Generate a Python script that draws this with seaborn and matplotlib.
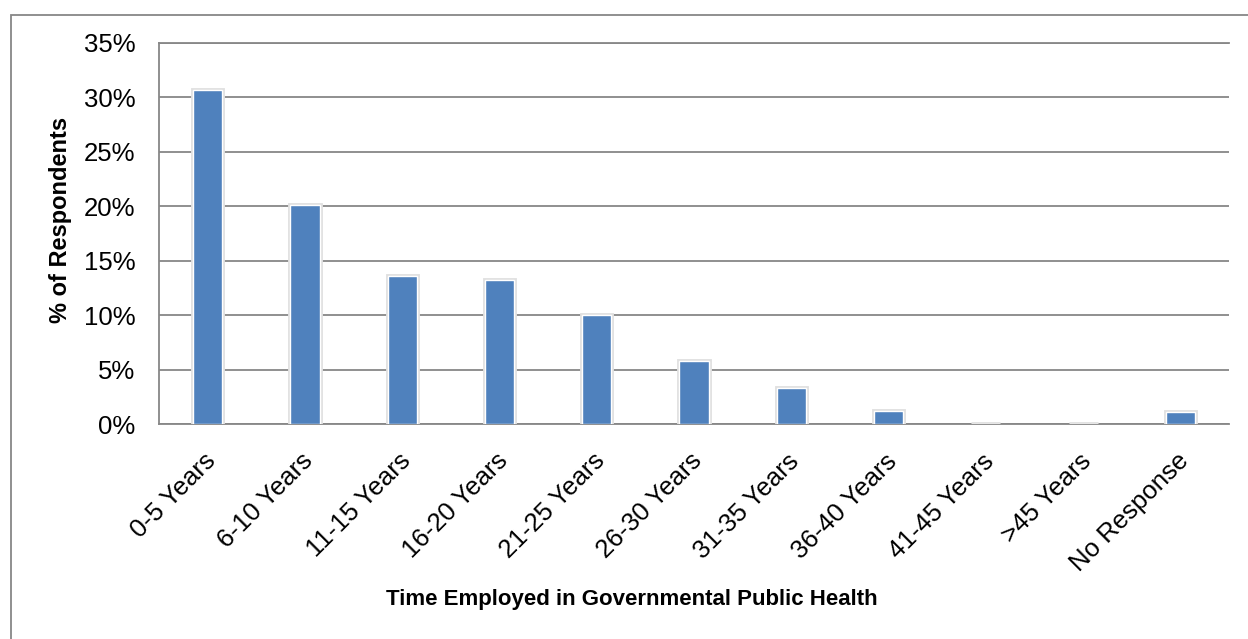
import matplotlib
matplotlib.use("Agg")
import matplotlib.pyplot as plt
import matplotlib.patheffects as pe
from matplotlib.patches import Rectangle
from matplotlib.transforms import ScaledTranslation
import seaborn as sns
import pandas as pd

# Survey results: share of respondents by years employed
categories = ["0-5 Years", "6-10 Years", "11-15 Years", "16-20 Years", "21-25 Years",
              "26-30 Years", "31-35 Years", "36-40 Years", "41-45 Years", ">45 Years",
              "No Response"]
percent = [30.7, 20.1, 13.6, 13.2, 10.0, 5.8, 3.3, 1.2, 0.0, 0.0, 1.1]
y_ticks = [0, 5, 10, 15, 20, 25, 30, 35]
x_title = "Time Employed in Governmental Public Health"
y_title = "% of Respondents"

df = pd.DataFrame({"category": categories, "percent": percent})

sns.set_theme(style="white")
plt.rcParams["font.family"] = ["Liberation Sans", "DejaVu Sans"]

W, H = 1248, 639
fig = plt.figure(figsize=(W / 100, H / 100), dpi=100)
ax = fig.add_axes([159 / W, 1 - 424 / H, (1229 - 159) / W, (424 - 43) / H])

grey = "#878787"
sns.barplot(data=df, x="category", y="percent", ax=ax, color="#4F81BD",
            width=0.3, saturation=1, edgecolor="white", linewidth=1.0, zorder=3)
for bar in ax.patches:
    bar.set_path_effects([pe.Stroke(linewidth=3.5, foreground="#e0e0e0"), pe.Normal()])

ax.set_ylim(0, 35)
ax.set_xlim(-0.5, len(categories) - 0.5)
ax.set_yticks(y_ticks)
ax.set_yticklabels([f"{t}%" for t in y_ticks])
ax.yaxis.grid(True, color=grey, linewidth=1.3, zorder=0)
ax.xaxis.grid(False)
ax.set_axisbelow(True)

for side in ["left", "bottom", "top"]:
    ax.spines[side].set_visible(True)
    ax.spines[side].set_color(grey)
    ax.spines[side].set_linewidth(1.3)
ax.spines["right"].set_visible(False)

ax.tick_params(axis="y", length=0, pad=17, labelsize=18.5, labelcolor="black")
ax.tick_params(axis="x", length=0, pad=18, labelsize=18.5, labelcolor="black")
shift = ScaledTranslation(-4 / 100, 0, fig.dpi_scale_trans)
for lab in ax.get_xticklabels():
    lab.set_rotation(45)
    lab.set_ha("right")
    lab.set_va("top")
    lab.set_rotation_mode("anchor")
    lab.set_transform(lab.get_transform() + shift)

ax.set_xlabel("")
ax.set_ylabel("")
fig.text(632 / W, 1 - 600 / H, x_title, ha="center", va="center",
         fontsize=16, fontweight="bold", color="black")
fig.text(61 / W, 1 - 220 / H, y_title, ha="center", va="center",
         rotation=90, fontsize=17, fontweight="bold", color="black")

# chart-area border
fig.patches.append(Rectangle((11 / W, -0.1), 1.2, 1.1 - 15 / H, transform=fig.transFigure,
                             fill=False, edgecolor=grey, linewidth=1.3, zorder=0))

fig.savefig("out.png", dpi=100, facecolor="white")
